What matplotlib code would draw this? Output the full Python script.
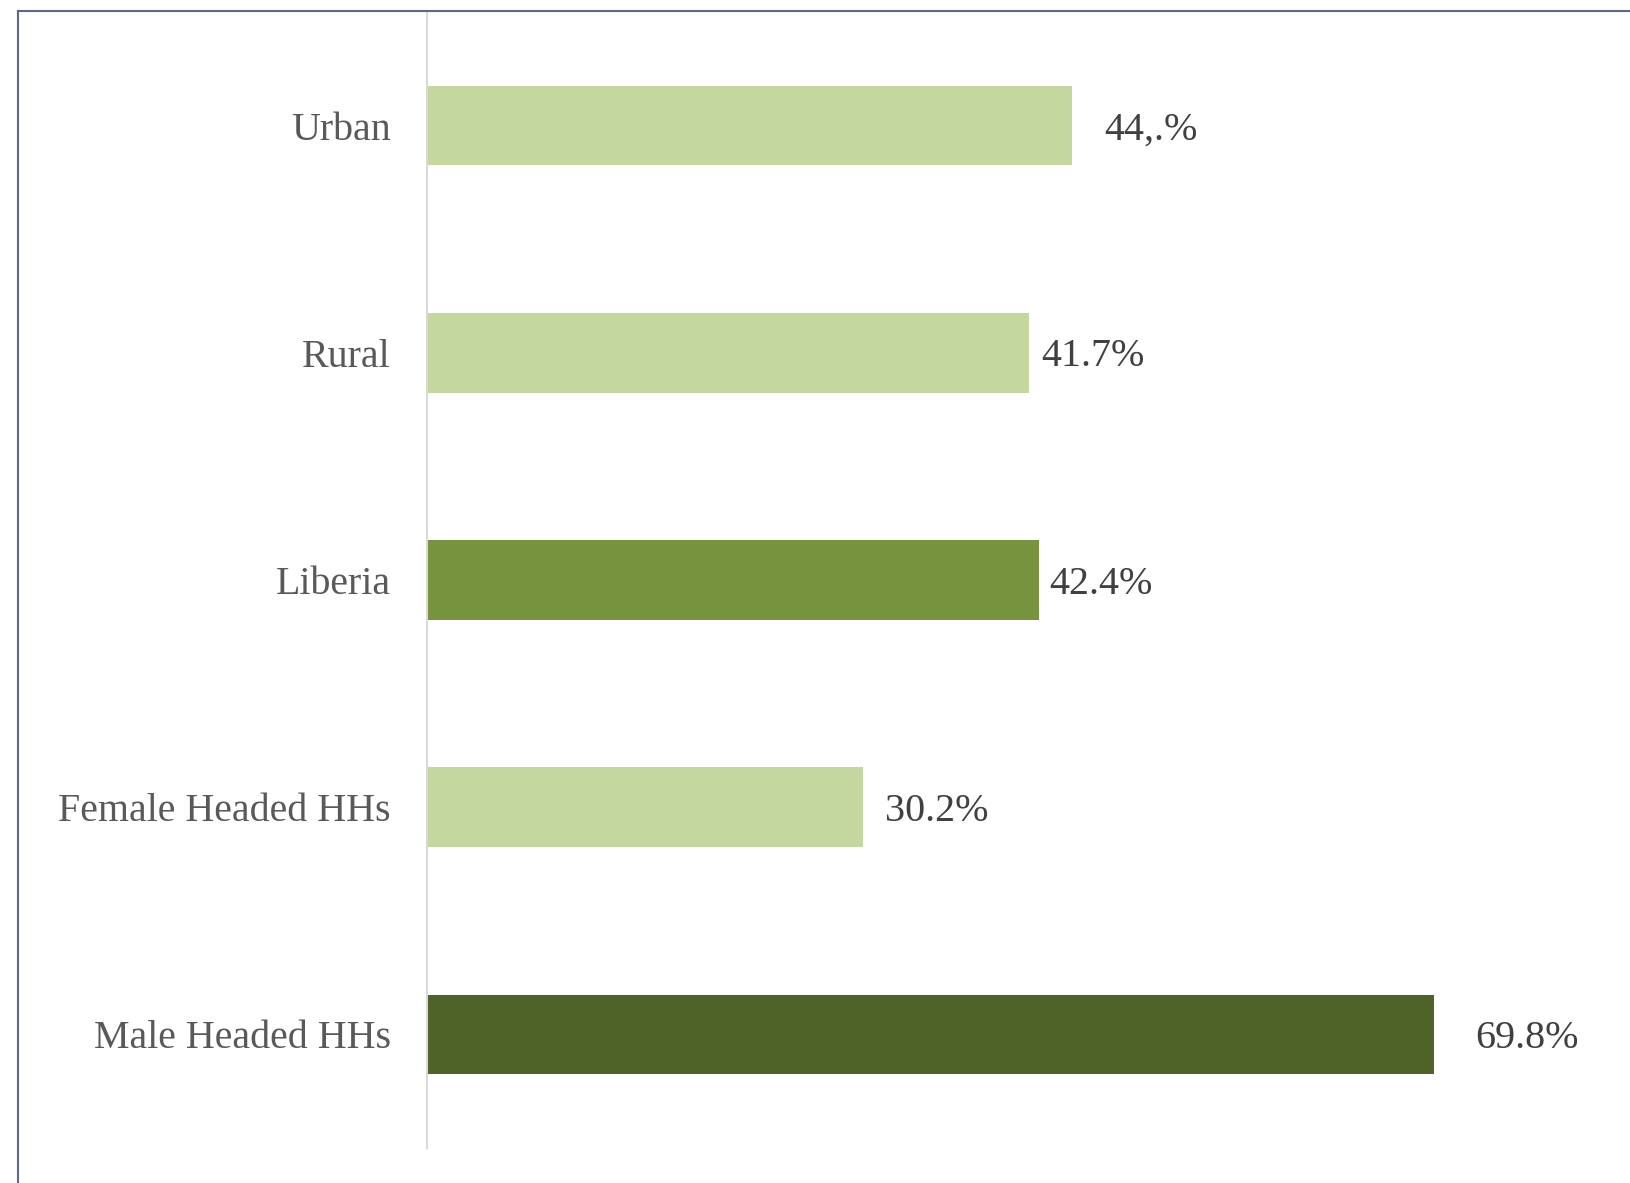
import matplotlib.pyplot as plt
from matplotlib.lines import Line2D

plt.rcParams["font.family"] = ["Liberation Serif", "DejaVu Serif"]

# --- data (top to bottom) ---------------------------------------------------
categories = ["Urban", "Rural", "Liberia", "Female Headed HHs", "Male Headed HHs"]
values = [44.7, 41.7, 42.4, 30.2, 69.8]
value_labels = ["44,.%", "41.7%", "42.4%", "30.2%", "69.8%"]

LIGHT, MID, DARK = "#C4D79E", "#77933C", "#4F6228"
colors = [LIGHT, LIGHT, MID, LIGHT, DARK]
label_dx = [32, 13, 10, 22, 41]          # px gap between bar end and label

W, H = 1630, 1183
fig = plt.figure(figsize=(W / 100, H / 100), dpi=100)
ax = fig.add_axes([427 / W, 1 - 1148 / H, 1 - 427 / W, 1136 / H])

y = list(range(len(categories)))
ax.barh(y, values, height=0.35, color=colors)
ax.set_ylim(len(categories) - 0.5, -0.5)
ax.set_xlim(0, (W - 427) / 14.43)

ax.set_yticks(y)
ax.set_yticklabels(categories, fontsize=28.8, color="#595959")
ax.tick_params(axis="y", length=0, pad=26)
ax.set_xticks([])
for s in ["top", "right", "bottom"]:
    ax.spines[s].set_visible(False)
ax.spines["left"].set_color("#D9D9D9")
ax.spines["left"].set_linewidth(1.5)

for yi, v, lab, dx in zip(y, values, value_labels, label_dx):
    ax.annotate(lab, xy=(v, yi), xytext=(dx * 0.72, -3), textcoords="offset points",
                ha="left", va="center", fontsize=28.8, color="#404040")

# outer chart frame (left and top edges visible)
fx, fy = 18 / W, 1 - 11 / H
fig.add_artist(Line2D([fx, fx], [0, fy], transform=fig.transFigure,
                      color="#5A6A82", lw=1.5))
fig.add_artist(Line2D([fx, 1], [fy, fy], transform=fig.transFigure,
                      color="#5A6A82", lw=1.5))

fig.savefig("out.png", dpi=100, facecolor="white")
